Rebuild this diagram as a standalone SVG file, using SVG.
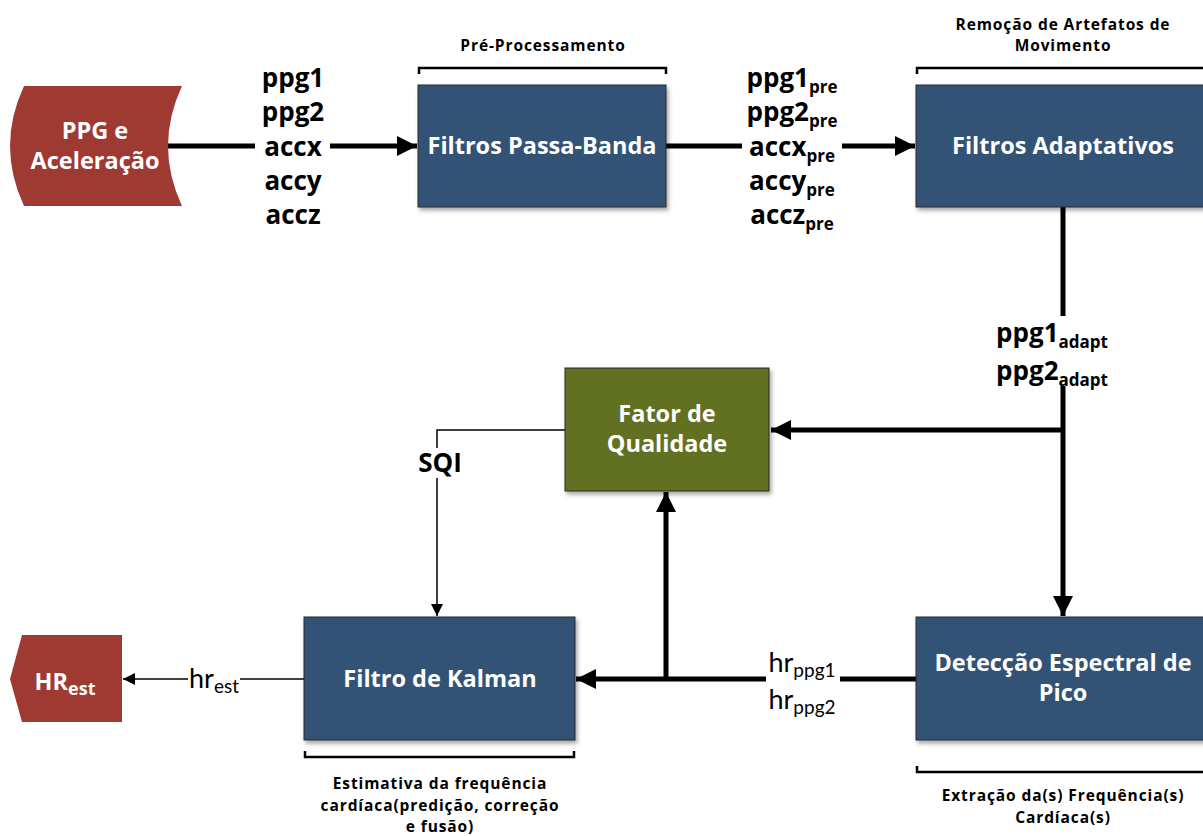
<svg xmlns="http://www.w3.org/2000/svg" width="1203" height="836" viewBox="0 0 1203 836">
<style>
.t{font-family:"Open Sans","Noto Sans",sans-serif;font-weight:bold;text-anchor:middle}
.w{fill:#ffffff;font-size:23.5px}
.lab{fill:#000;font-size:26px}
.cap{fill:#000;font-size:15.5px;letter-spacing:0.9px}
.hr{font-family:Lato,"Open Sans",sans-serif;font-size:27px;fill:#000;text-anchor:middle}
.blue{fill:#325374;stroke:#2a2a2a;stroke-width:1}
.olive{fill:#626F20;stroke:#2a2a2a;stroke-width:1}
.red{fill:#9F3A32}
.thick{stroke:#000;stroke-width:5;fill:none}
.thin{stroke:#000;stroke-width:1.5;fill:none}
.br{stroke:#000;stroke-width:2.5;fill:none}
</style>
<defs>
<filter id="sh" x="-10%" y="-10%" width="130%" height="130%">
<feDropShadow dx="2" dy="3" stdDeviation="2" flood-color="#000" flood-opacity="0.35"/>
</filter>
<marker id="ab" markerUnits="userSpaceOnUse" markerWidth="22" markerHeight="22" refX="20" refY="10" orient="auto">
<path d="M0,0 L20,10 L0,20 Z" fill="#000"/>
</marker>
<marker id="as" markerUnits="userSpaceOnUse" markerWidth="14" markerHeight="14" refX="12" refY="6" orient="auto">
<path d="M0,0 L12,6 L0,12 Z" fill="#000"/>
</marker>
</defs>

<g id="connectors">
<line class="thick" x1="165" y1="146" x2="255" y2="146"/>
<line class="thick" x1="330" y1="146" x2="417" y2="146" marker-end="url(#ab)"/>
<line class="thick" x1="666" y1="146" x2="742" y2="146"/>
<line class="thick" x1="842" y1="146" x2="915" y2="146" marker-end="url(#ab)"/>
<line class="thick" x1="1063" y1="207" x2="1063" y2="316"/>
<line class="thick" x1="1063" y1="386" x2="1063" y2="616" marker-end="url(#ab)"/>
<line class="thick" x1="1063" y1="430" x2="771" y2="430" marker-end="url(#ab)"/>
<polyline class="thin" points="565,430 437,430 437,448"/>
<line class="thin" x1="437" y1="478" x2="437" y2="616" marker-end="url(#as)"/>
<line class="thick" x1="916" y1="679" x2="840" y2="679"/>
<line class="thick" x1="766" y1="679" x2="576" y2="679" marker-end="url(#ab)"/>
<line class="thick" x1="666" y1="679" x2="666" y2="492" marker-end="url(#ab)"/>
<line class="thin" x1="304" y1="679" x2="240" y2="679"/>
<line class="thin" x1="188" y1="679" x2="123" y2="679" marker-end="url(#as)"/>
</g>

<g id="labels">
<text class="t lab" x="293" y="87">ppg1</text>
<text class="t lab" x="293" y="121">ppg2</text>
<text class="t lab" x="293" y="156">accx</text>
<text class="t lab" x="293" y="190">accy</text>
<text class="t lab" x="293" y="224">accz</text>
<text class="t lab" x="792" y="87">ppg1<tspan font-size="17" dy="6">pre</tspan></text>
<text class="t lab" x="792" y="121">ppg2<tspan font-size="17" dy="6">pre</tspan></text>
<text class="t lab" x="792" y="156">accx<tspan font-size="17" dy="6">pre</tspan></text>
<text class="t lab" x="792" y="190">accy<tspan font-size="17" dy="6">pre</tspan></text>
<text class="t lab" x="792" y="224">accz<tspan font-size="17" dy="6">pre</tspan></text>
<text class="t lab" x="1052" y="342">ppg1<tspan font-size="17" dy="6">adapt</tspan></text>
<text class="t lab" x="1052" y="380">ppg2<tspan font-size="17" dy="6">adapt</tspan></text>
<text class="t lab" x="440" y="472">SQI</text>
<text class="hr" x="802" y="672">hr<tspan font-size="19" dy="5">ppg1</tspan></text>
<text class="hr" x="802" y="709">hr<tspan font-size="19" dy="5">ppg2</tspan></text>
<text class="hr" x="214" y="688">hr<tspan font-size="19" dy="5">est</tspan></text>
</g>

<g id="brackets">
<path class="br" d="M419,74 V68 H666 V74"/>
<path class="br" d="M917,74 V68 H1203"/>
<path class="br" d="M305,751 V757 H574 V751"/>
<path class="br" d="M917,766 V772 H1203"/>
<text class="t cap" x="543" y="51">Pré-Processamento</text>
<text class="t cap" x="1063" y="30">Remoção de Artefatos de</text>
<text class="t cap" x="1063" y="51">Movimento</text>
<text class="t cap" x="440" y="789">Estimativa da frequência</text>
<text class="t cap" x="440" y="811">cardíaca(predição, correção</text>
<text class="t cap" x="440" y="832">e fusão)</text>
<text class="t cap" x="1063" y="801">Extração da(s) Frequência(s)</text>
<text class="t cap" x="1063" y="823">Cardíaca(s)</text>
</g>

<g id="node-ppg">
<path class="red" d="M24,86 L182,86 Q154,146 182,206 L24,206 Q-4,146 24,86 Z"/>
<text class="t w" x="95" y="139">PPG e</text>
<text class="t w" x="95" y="169">Aceleração</text>
</g>

<g id="node-passabanda">
<rect class="blue" x="418" y="85" width="248" height="122" filter="url(#sh)"/>
<text class="t w" x="542" y="154">Filtros Passa-Banda</text>
</g>

<g id="node-adaptativos">
<rect class="blue" x="916" y="85" width="295" height="122" filter="url(#sh)"/>
<text class="t w" x="1063" y="154">Filtros Adaptativos</text>
</g>

<g id="node-fator">
<rect class="olive" x="565" y="368" width="204" height="123" filter="url(#sh)"/>
<text class="t w" x="667" y="422">Fator de</text>
<text class="t w" x="667" y="452">Qualidade</text>
</g>

<g id="node-kalman">
<rect class="blue" x="304" y="617" width="271" height="123" filter="url(#sh)"/>
<text class="t w" x="440" y="687">Filtro de Kalman</text>
</g>

<g id="node-deteccao">
<rect class="blue" x="916" y="617" width="295" height="123" filter="url(#sh)"/>
<text class="t w" x="1063" y="671">Detecção Espectral de</text>
<text class="t w" x="1063" y="701">Pico</text>
</g>

<g id="node-hrest">
<path class="red" d="M22,635 L122,635 L122,722 L22,722 L10,679 Z"/>
<text class="t w" x="65" y="690" font-size="27">HR<tspan font-size="18" dy="5">est</tspan></text>
</g>
</svg>
